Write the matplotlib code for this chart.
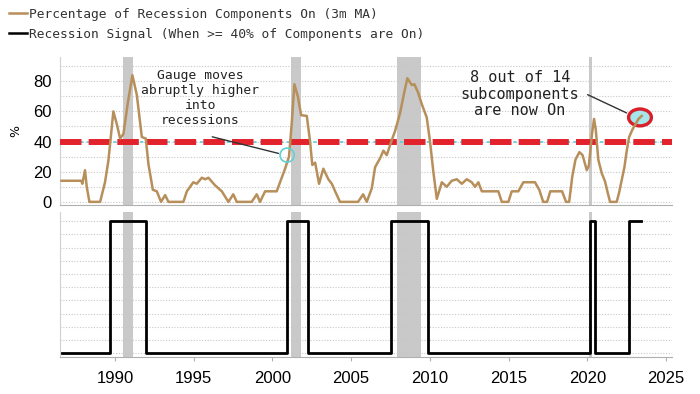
import matplotlib
matplotlib.use("Agg")
import matplotlib.pyplot as plt
from matplotlib.patches import Ellipse
from matplotlib.lines import Line2D

# percentage of recession components on (3m MA)
years = [1986.6, 1987.0, 1987.5, 1987.85, 1987.92, 1988.09, 1988.2, 1988.37, 1989.05,
         1989.36, 1989.57, 1989.7, 1989.89, 1990.1, 1990.32, 1990.53, 1990.8, 1991.1,
         1991.38, 1991.7, 1991.95, 1992.12, 1992.4, 1992.65, 1992.92, 1993.18, 1993.39,
         1994.34, 1994.56, 1994.97, 1995.19, 1995.51, 1995.72, 1995.93, 1996.35, 1996.78,
         1997.2, 1997.51, 1997.73, 1998.68, 1999.0, 1999.21, 1999.53, 2000.27, 2000.48,
         2000.8, 2001.05, 2001.23, 2001.39, 2001.61, 2001.82, 2002.18, 2002.39, 2002.53,
         2002.71, 2002.96, 2003.23, 2003.55, 2003.77, 2003.98, 2004.29, 2005.44, 2005.76,
         2005.99, 2006.31, 2006.52, 2006.84, 2007.05, 2007.26, 2007.58, 2007.79, 2008.11,
         2008.32, 2008.57, 2008.85, 2009.02, 2009.27, 2009.48, 2009.8, 2010.01, 2010.22,
         2010.44, 2010.76, 2011.07, 2011.39, 2011.71, 2012.03, 2012.34, 2012.66, 2012.87,
         2013.08, 2013.3, 2014.35, 2014.57, 2014.99, 2015.2, 2015.62, 2015.94, 2016.68,
         2016.95, 2017.2, 2017.45, 2017.65, 2018.4, 2018.65, 2018.85, 2019.05, 2019.25,
         2019.5, 2019.7, 2019.97, 2020.1, 2020.3, 2020.43, 2020.54, 2020.7, 2020.92,
         2021.13, 2021.3, 2021.45, 2021.87, 2022.02, 2022.19, 2022.36, 2022.51, 2022.66,
         2022.87, 2023.04, 2023.25, 2023.46]
pct_on = [14, 14, 14, 14, 12, 21, 10, 0, 0,
          13, 27, 40, 60, 52, 42, 45, 65, 84,
          71, 43, 42, 25, 8, 7, 0, 4.5, 0,
          0, 7, 13, 12, 16, 15, 16, 11, 7,
          0, 5, 0, 0, 5, 0, 7, 7, 13,
          22, 30, 53, 78, 70, 57.5, 57, 40, 24.5,
          26, 12, 22, 15, 12, 7, 0, 0, 5,
          0, 9, 23, 29, 34, 31, 41, 47, 59,
          70, 82, 77.5, 78, 72, 65, 56, 40, 20,
          2, 13, 10, 14, 15, 12, 15, 13, 10,
          13, 7, 7, 0, 0, 7, 7, 13, 13,
          8, 0, 0, 7, 7, 0, 0, 17, 28,
          33, 31, 21, 24, 45, 55, 48, 28, 19,
          13.5, 6, 0, 0, 6, 14.5, 23, 34, 43,
          48, 51, 55, 57]

# recession signal (step series)
signal_years = [1986.6, 1989.68, 1991.98, 2000.95, 2002.28, 2007.55, 2009.9,
                2020.2, 2020.52, 2022.65, 2023.4]
signal_vals = [0, 1, 0, 1, 0, 1, 0, 1, 0, 1, 1]

# NBER recessions
rec_start = [1990.5, 2001.17, 2007.92, 2020.1]
rec_end = [1991.17, 2001.83, 2009.42, 2020.27]

threshold = 40
xticks = [1990, 1995, 2000, 2005, 2010, 2015, 2020, 2025]

BROWN = "#b78f5b"
RED = "#e3232c"
CYAN = "#5fd0d6"
SHADE = "#c9c9c9"
GRID = "#c8c8c8"
MONO = "DejaVu Sans Mono"

fig = plt.figure(figsize=(7, 3.94), dpi=100)
ax1 = fig.add_axes([0.0857, 0.48, 0.874, 0.375])
ax2 = fig.add_axes([0.0857, 0.094, 0.874, 0.368], sharex=ax1)

for ax in (ax1, ax2):
    for s, e in zip(rec_start, rec_end):
        ax.axvspan(s, e, color=SHADE, lw=0, zorder=0)
    for side in ("top", "right"):
        ax.spines[side].set_visible(False)
    ax.spines["left"].set_color("#d0d0d0")
    ax.spines["bottom"].set_color("#b0b0b0")
    ax.tick_params(axis="y", length=0)

# top panel
ax1.plot(years, pct_on, color=BROWN, lw=1.8, zorder=5)
ax1.axhline(threshold, color=CYAN, lw=1.2, ls=(0, (2, 2)), zorder=2)
ax1.axhline(threshold, color=RED, lw=4.3, ls=(0, (3.6, 1.2)), zorder=4)
ax1.set_ylim(-2, 96)
ax1.set_yticks([0, 20, 40, 60, 80])
ax1.set_yticks(range(0, 100, 10), minor=True)
ax1.grid(True, axis="y", which="both", color=GRID, ls=(0, (1, 1.5)), lw=0.8)
ax1.set_axisbelow(True)
ax1.tick_params(axis="y", which="both", length=0, labelsize=12, pad=6)
ax1.tick_params(axis="x", length=0, labelbottom=False)
for lab in ax1.get_yticklabels():
    lab.set_fontfamily("Liberation Sans")
ax1.set_ylabel("%", fontsize=9, labelpad=8)

ax1.text(1995.4, 69, "Gauge moves\nabruptly higher\ninto\nrecessions",
         ha="center", va="center", family=MONO, fontsize=9.4,
         linespacing=1.2, color="#222222", zorder=6)
ax1.annotate("", xy=(2000.55, 31.7), xytext=(1996.0, 43.6),
             arrowprops=dict(arrowstyle="-", color="#333333", lw=1), zorder=6)
ax1.add_patch(Ellipse((2000.93, 31), 0.9, 9.3, fill=False, ec=CYAN, lw=1.2, zorder=6))

ax1.text(2015.73, 71.5, "8 out of 14\nsubcomponents\nare now On",
         ha="center", va="center", family=MONO, fontsize=11,
         linespacing=1.1, color="#222222", zorder=6)
ax1.annotate("", xy=(2022.66, 58.2), xytext=(2019.86, 71.9),
             arrowprops=dict(arrowstyle="-", color="#333333", lw=1), zorder=6)
ax1.add_patch(Ellipse((2023.35, 56), 1.45, 11.2, fc="#a6e6ea", ec="#d8202a",
                      lw=2.4, zorder=4.5))

# bottom panel
ax2.plot(signal_years, signal_vals, color="black", lw=2, drawstyle="steps-post", zorder=3)
ax2.set_ylim(-0.028, 1.07)
ax2.set_yticks([i / 10 for i in range(11)])
ax2.tick_params(axis="y", labelleft=False)
ax2.grid(True, axis="y", color=GRID, ls=(0, (1, 1.5)), lw=0.8)
ax2.set_axisbelow(True)
ax2.set_xlim(1986.5, 2025.37)
ax2.set_xticks(xticks)
ax2.tick_params(axis="x", length=3, color="#b0b0b0", labelsize=12, pad=7)
for lab in ax2.get_xticklabels():
    lab.set_fontfamily("Liberation Sans")

handles = [Line2D([], [], color=BROWN, lw=1.8), Line2D([], [], color="black", lw=1.8)]
labels = ["Percentage of Recession Components On (3m MA)",
          "Recession Signal (When >= 40% of Components are On)"]
fig.legend(handles, labels, loc="upper left", bbox_to_anchor=(-0.004, 1.01),
           frameon=False, prop={"family": MONO, "size": 9.3},
           handlelength=1.4, handletextpad=0.2, labelspacing=0.55,
           labelcolor="#333333")

fig.savefig("out.png", dpi=100)
